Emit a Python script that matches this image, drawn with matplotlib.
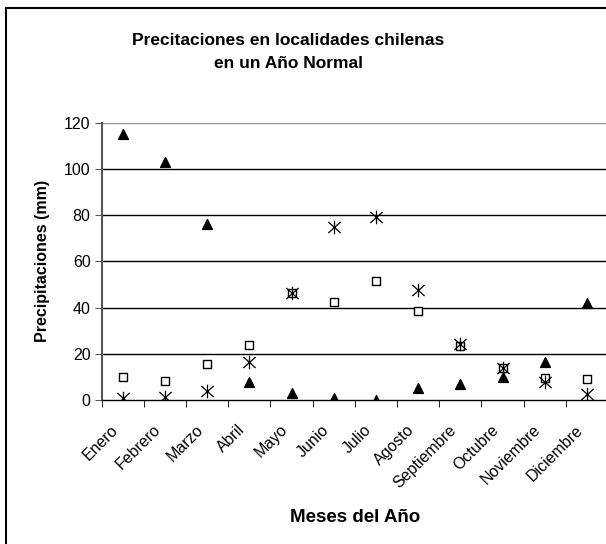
import matplotlib
matplotlib.use("Agg")
import matplotlib.pyplot as plt
import matplotlib.transforms as mtransforms
from matplotlib.patches import Rectangle
from matplotlib.path import Path

plt.rcParams['font.family'] = ['Liberation Sans', 'DejaVu Sans']

meses = ['Enero', 'Febrero', 'Marzo', 'Abril', 'Mayo', 'Junio', 'Julio',
         'Agosto', 'Septiembre', 'Octubre', 'Noviembre', 'Diciembre']
# precipitaciones mensuales (mm) por localidad
serie_triangulo = [115, 103, 76, 8, 3, 1, 0, 5, 7, 10, 16.5, 42]
serie_cuadrado = [10, 8.3, 15.7, 23.8, 46.5, 42.4, 51.5, 38.4, 23.5, 14, 9.4, 9]
serie_asterisco = [0.8, 1.5, 4, 16.6, 46.5, 75, 79, 47.8, 24.3, 14, 8, 2.6]
yticks = [0, 20, 40, 60, 80, 100, 120]

# asterisco estilo Excel: X con linea vertical
asterisco = Path([(-1, -0.9), (1, 0.9), (-1, 0.9), (1, -0.9), (0, -1.1), (0, 1.1)],
                 [Path.MOVETO, Path.LINETO, Path.MOVETO, Path.LINETO,
                  Path.MOVETO, Path.LINETO])

fig = plt.figure(figsize=(6.06, 5.44), dpi=100)
ax = fig.add_axes([101.7 / 606, 1 - 400 / 544, 506.3 / 606, 277.3 / 544])

x = list(range(len(meses)))
ax.scatter(x, serie_cuadrado, marker='s', s=30, facecolors='white',
           edgecolors='black', linewidths=1.0, zorder=3)
ax.scatter(x, serie_asterisco, marker=asterisco, s=95, color='black',
           linewidths=0.9, zorder=4)
ax.scatter(x, serie_triangulo, marker='^', s=50, color='black', zorder=5)

ax.set_xlim(-0.5, len(meses) - 0.5)
ax.set_ylim(0, 120)
ax.set_yticks(yticks)
for y in yticks[1:]:
    col = '#999999' if y == 120 else 'black'
    ax.axhline(y, color=col, lw=1.0, zorder=1)

for s in ['top', 'right']:
    ax.spines[s].set_visible(False)
ax.spines['left'].set_color('#555555')
ax.spines['left'].set_linewidth(1.5)
ax.spines['bottom'].set_color('black')
ax.spines['bottom'].set_linewidth(1.0)

ax.set_xticks(x)
ax.set_xticklabels(meses, rotation=45, ha='right', va='top',
                   rotation_mode='anchor', fontsize=11.5)
ax.tick_params(axis='x', length=0, pad=16)
# desplazar etiquetas rotadas hacia la izquierda
shift = mtransforms.ScaledTranslation(-12 / 100, 0, fig.dpi_scale_trans)
for lbl in ax.get_xticklabels():
    lbl.set_transform(lbl.get_transform() + shift)
ax.set_xticks([i - 0.5 for i in range(len(meses) + 1)], minor=True)
ax.tick_params(axis='x', which='minor', length=5, direction='out',
               color='black')
ax.tick_params(axis='y', length=5, direction='out', color='#555555',
               labelsize=11.5, pad=3)

ax.set_ylabel('Precipitaciones (mm)', fontsize=11.5, fontweight='bold',
              labelpad=10)
fig.text(355 / 606, 1 - 518 / 544, 'Meses del Año', fontsize=13.5,
         fontweight='bold', ha='center', va='center')
fig.text(288 / 606, 1 - 52 / 544,
         'Precitaciones en localidades chilenas\nen un Año Normal',
         fontsize=12.5, fontweight='bold', ha='center', va='center',
         linespacing=1.7)

# marco del grafico
fig.add_artist(Rectangle((5.5 / 606, -0.1), 1.2, 1 - 8 / 544 + 0.1,
                         fill=False, lw=1.5, edgecolor='black',
                         transform=fig.transFigure))

fig.savefig('out.png', dpi=100)
